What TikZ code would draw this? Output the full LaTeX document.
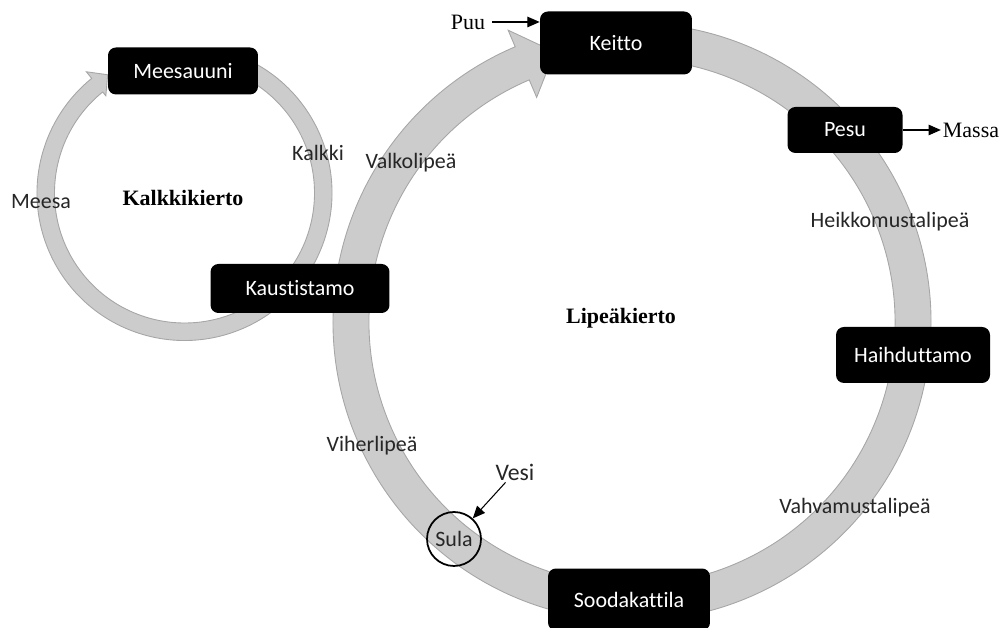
\documentclass[tikz,border=0pt]{standalone}
\usepackage{fontspec}
\setmainfont{Liberation Serif}
\setsansfont{Carlito}[Ligatures=NoCommon]
\usetikzlibrary{arrows.meta}
\usetikzlibrary{positioning}
\tikzstyle{ringarrow}=[fill=gray!40, draw=gray!70, line width=0.5pt]
\tikzstyle{plant}=[fill=black, text=white, rounded corners=4.5pt, inner sep=0pt, font=\sffamily\fontsize{12.5}{15}\selectfont]
\tikzstyle{stream}=[text=black!85, inner sep=1pt, font=\sffamily\fontsize{12.5}{15}\selectfont]
\tikzstyle{ext}=[inner sep=1pt, font=\fontsize{12.5}{15}\selectfont]
\tikzstyle{loopname}=[font=\bfseries\fontsize{12.5}{15}\selectfont]
\tikzstyle{flow}=[-{Triangle[length=7pt,width=6pt]}, line width=0.6pt]

\begin{document}
\begin{tikzpicture}[x=0.02cm, y=0.02cm]
        \useasboundingbox (0,0) rectangle (1000,628);

        % lipeakierto
        \begin{scope}[shift={(632,306)}]
          \filldraw[ringarrow] (85:299) arc[start angle=85, end angle=-247, radius=299]
            -- (-247:317) -- (-254:281) -- (-247:244) -- (-247:263)
            arc[start angle=-247, end angle=85, radius=263] -- cycle;
        \end{scope}

        % kalkkikierto
        \begin{scope}[shift={(184.5,435)}]
          \filldraw[ringarrow] (75:147.5) arc[start angle=75, end angle=-231, radius=147.5]
            -- (-231:156) -- (-237:141) -- (-231:125) -- (-231:130)
            arc[start angle=-231, end angle=75, radius=130] -- cycle;
        \end{scope}

        \node[plant, minimum width=3cm,    minimum height=0.94cm] (meesauuni)   at (183,557)  {Meesauuni};
        \node[plant, minimum width=3.04cm, minimum height=1.26cm] (keitto)      at (616,585)  {Keitto};
        \node[plant, minimum width=2.3cm,  minimum height=0.92cm] (pesu)        at (845,498)  {Pesu};
        \node[plant, minimum width=3.08cm, minimum height=1.12cm] (haihduttamo) at (913,273)  {Haihduttamo};
        \node[plant, minimum width=3.24cm, minimum height=1.24cm] (soodakattila) at (629,28.5) {Soodakattila};
        \node[plant, minimum width=3.58cm, minimum height=0.98cm] (kaustistamo) at (300,339.5) {Kaustistamo};
        \node[stream, draw=black, circle, line width=1pt, minimum size=1.08cm] (sula) at (454,89) {Sula};

        \node[loopname] (kalkkikierto) at (183,430) {Kalkkikierto};
        \node[loopname] (lipeakierto)  at (621,310) {Lipeäkierto};

        \node[stream] (kalkki)  at (318,475) {Kalkki};
        \node[stream] (meesa)   at (41,426)  {Meesa};
        \node[stream] (valko)   at (411,465) {Valkolipeä};
        \node[stream] (heikko)  at (890,406) {Heikkomustalipeä};
        \node[stream] (vahva)   at (855,120) {Vahvamustalipeä};
        \node[stream] (viher)   at (372,182) {Viherlipeä};
        \node[stream, font=\sffamily\fontsize{13.5}{16}\selectfont] (vesi) at (515,156) {Vesi};

        \node[ext] (puu) at (468,606) {Puu};
        \node[ext, right=0.76cm of pesu] (massa) {Massa};

        \draw[flow, shorten <=3pt] (puu) -- (puu -| keitto.west);
        \draw[flow] (pesu) -- (massa);
        \draw[flow] (vesi) -- (sula);
      \end{tikzpicture}
\end{document}
